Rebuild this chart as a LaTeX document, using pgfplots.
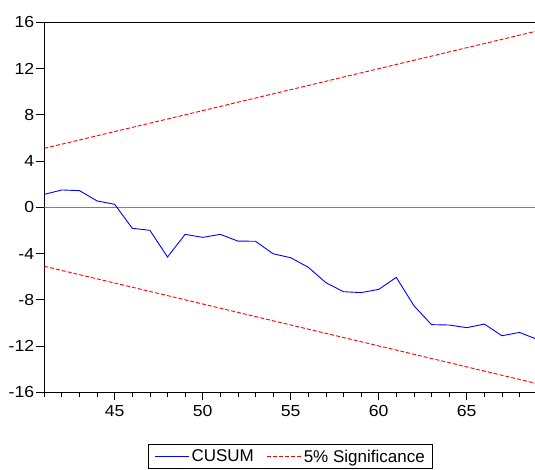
\documentclass[border=0pt]{standalone}
\usepackage{fontspec}
\setmainfont{Liberation Sans}
\newfontfamily\tickfont[FakeStretch=1.1]{Liberation Sans}
\usepackage{pgfplots}
\pgfplotsset{compat=1.18}

\begin{document}
\begin{tikzpicture}
\useasboundingbox (-44.3pt,-77.7pt) rectangle (490.7pt,392.3pt);
\begin{axis}[
    scale only axis,
    width=492.8pt,
    height=370pt,
    xmin=41, xmax=69,
    ymin=-16, ymax=16,
    xtick={45,50,55,60,65},
    minor xtick={41,...,69},
    ytick={-16,-12,...,16},
    tick pos=left,
    tick align=outside,
    major tick length=8pt,
    minor tick length=5pt,
    tick style={black, line width=0.8pt},
    axis line style={black, line width=1pt},
    /pgf/number format/assume math mode=true,
    ticklabel style={font=\tickfont\fontsize{16}{19}\selectfont},
    yticklabel style={inner xsep=2pt},
    xticklabel style={inner ysep=5pt},
    legend columns=2,
    legend style={
        at={(0.5,-0.1410)},
        anchor=north,
        draw=black,
        line width=0.8pt,
        inner xsep=6pt,
        inner ysep=3pt,
        font=\fontsize{17}{20}\selectfont,
        /tikz/every even column/.append style={column sep=11pt}
    },
    legend image code/.code={\draw[#1] (0pt,0pt) -- (34pt,0pt);},
]

% zero reference line
\addplot[gray, line width=0.9pt, forget plot] coordinates {(41,0) (69,0)};

\addplot[blue, line width=0.9pt] coordinates {
    (41,1.12) (42,1.50) (43,1.44) (44,0.55) (45,0.26)
    (46,-1.82) (47,-1.99) (48,-4.30) (49,-2.34) (50,-2.60)
    (51,-2.34) (52,-2.92) (53,-2.94) (54,-4.02) (55,-4.36)
    (56,-5.19) (57,-6.52) (58,-7.30) (59,-7.38) (60,-7.10)
    (61,-6.06) (62,-8.51) (63,-10.15) (64,-10.18) (65,-10.41)
    (66,-10.10) (67,-11.11) (68,-10.82) (69,-11.42)
};
\addlegendentry{CUSUM}

\addplot[red, line width=0.9pt, dash pattern=on 4pt off 2pt] coordinates {
    (41,5.10) (69,15.25)
};
\addlegendentry{5\% Significance}

\addplot[red, line width=0.9pt, dash pattern=on 4pt off 2pt, forget plot] coordinates {
    (41,-5.10) (69,-15.25)
};

\end{axis}
\end{tikzpicture}
\end{document}
